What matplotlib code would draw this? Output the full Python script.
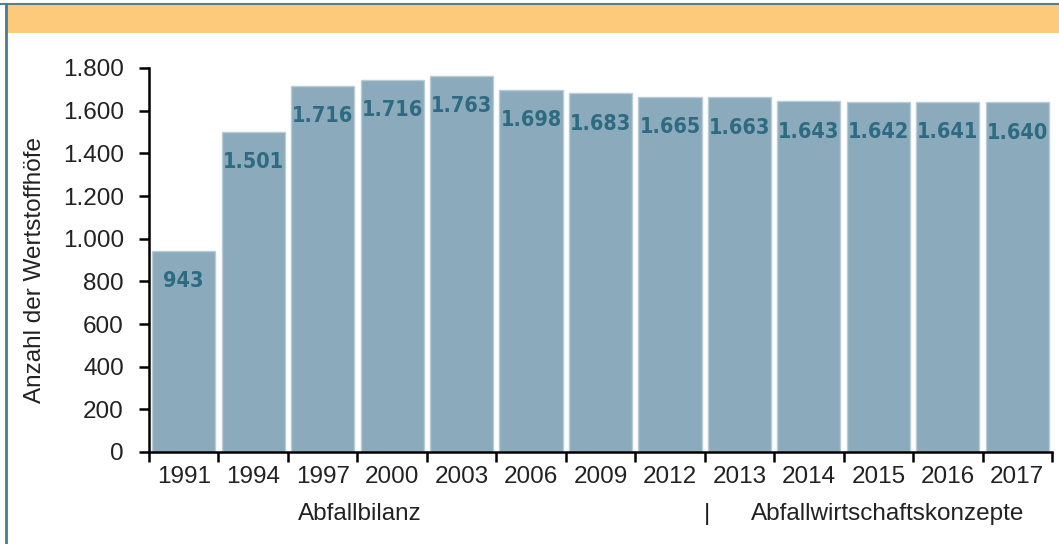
import matplotlib
matplotlib.use("Agg")
import matplotlib.pyplot as plt
from matplotlib.patches import Rectangle
from matplotlib.lines import Line2D

# data
years = ["1991", "1994", "1997", "2000", "2003", "2006", "2009",
         "2012", "2013", "2014", "2015", "2016", "2017"]
heights = [943, 1501, 1716, 1745, 1763, 1698, 1683,
           1665, 1663, 1643, 1642, 1641, 1640]
labels = ["943", "1.501", "1.716", "1.716", "1.763", "1.698", "1.683",
          "1.665", "1.663", "1.643", "1.642", "1.641", "1.640"]
yticks = [0, 200, 400, 600, 800, 1000, 1200, 1400, 1600, 1800]
ytick_labels = ["0", "200", "400", "600", "800", "1.000", "1.200",
                "1.400", "1.600", "1.800"]

plt.rcParams['font.family'] = ['Liberation Sans', 'DejaVu Sans']
fs = 17.5
tc = "#222222"

fig = plt.figure(figsize=(10.59, 5.44), dpi=100)

# frame: orange header band and blue-grey border
fig.patches.append(Rectangle((5/1059, 1-33/544), 1, 28/544, transform=fig.transFigure,
                             facecolor="#fdca7c", edgecolor="none", zorder=0))
fig.lines.append(Line2D([0, 1], [1-4/544, 1-4/544], transform=fig.transFigure,
                        color="#5a7f8c", lw=1.5))
fig.lines.append(Line2D([5.5/1059, 5.5/1059], [0, 1-4/544], transform=fig.transFigure,
                        color="#4e7a8f", lw=2))

ax = fig.add_axes([149/1059, 1-452/544, (1052-149)/1059, (452-68)/544])
x = list(range(len(years)))
ax.bar(x, heights, width=0.91, color="#8babbc", edgecolor="#b9ccd6", linewidth=1, zorder=2)

for xi, h, lab in zip(x, heights, labels):
    ax.annotate(lab, (xi, h), xytext=(0, -22), textcoords="offset points", ha="center",
                va="center", fontsize=15.5, fontweight="bold", color="#2e6a81",
                family="DejaVu Sans", fontstretch="condensed")

ax.set_xlim(-0.5, len(years) - 0.5)
ax.set_ylim(0, 1800)
ax.set_yticks(yticks)
ax.set_yticklabels(ytick_labels)
ax.set_xticks([i - 0.5 for i in range(len(years) + 1)])
ax.set_xticklabels([])
ax.set_xticks(x, minor=True)
ax.set_xticklabels(years, minor=True)
ax.tick_params(axis="x", which="major", length=7, width=1.8, direction="out")
ax.tick_params(axis="x", which="minor", length=0, pad=10, labelsize=fs, labelcolor=tc)
ax.tick_params(axis="y", length=7, width=1.8, labelsize=fs, labelcolor=tc, pad=11)

for s in ["top", "right"]:
    ax.spines[s].set_visible(False)
ax.spines["left"].set_linewidth(1.8)
ax.spines["bottom"].set_linewidth(1.8)

fig.text(35/1059, 1-270/544, "Anzahl der Wertstoffhöfe", rotation=90, ha="center",
         va="center", fontsize=fs, color=tc)
fig.text(360/1059, 1-514/544, "Abfallbilanz", ha="center", va="center",
         fontsize=fs, color=tc)
fig.text(707/1059, 1-514/544, "|", ha="center", va="center",
         fontsize=fs, color=tc)
fig.text(888/1059, 1-514/544, "Abfallwirtschaftskonzepte", ha="center", va="center",
         fontsize=fs, color=tc)

fig.savefig("out.png", dpi=100)
